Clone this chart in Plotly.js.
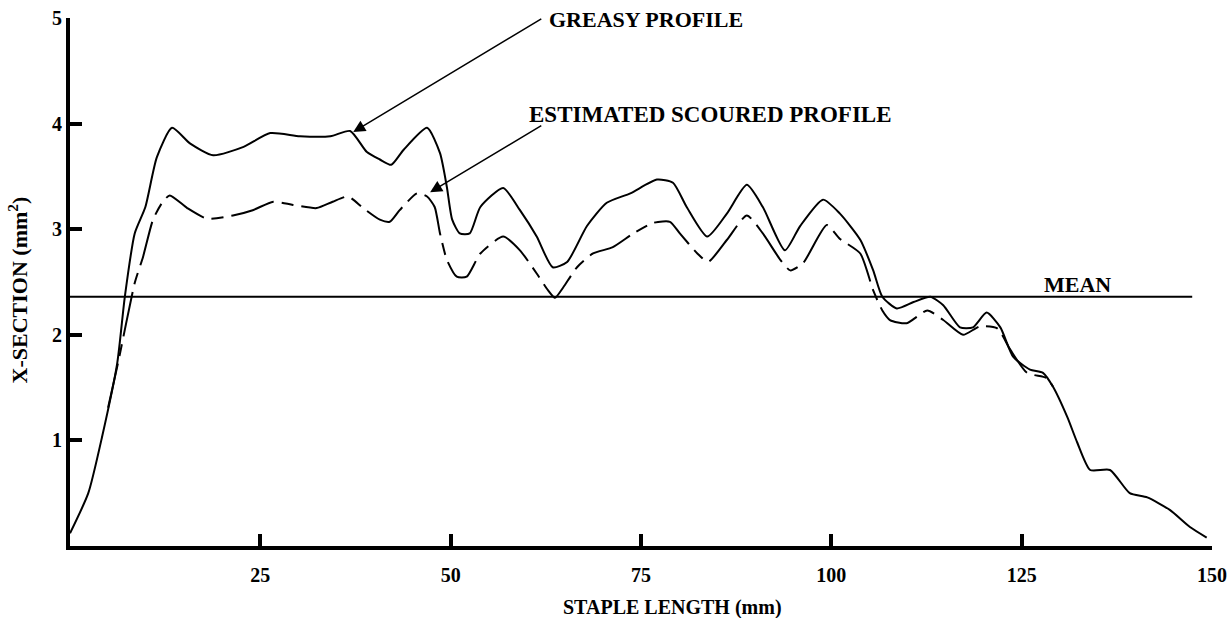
<!DOCTYPE html>
<html>
<head>
<meta charset="utf-8">
<script src="https://cdn.plot.ly/plotly-3.0.1.min.js"></script>
<style>html,body{margin:0;padding:0;background:#fff}#chart{width:1228px;height:618px}</style>
</head>
<body>
<div id="chart"></div>
<script>
// Greasy profile (solid)
var greasyX = [0, 2.4, 4.2, 6.2, 7.2, 8.5, 9.9, 11.4, 13.4, 15.8, 18.8, 22.8, 26.3, 30.2, 34.2, 36.8, 39, 40.7, 42.2, 43.8, 46.9, 48.6, 49.5, 50.2, 51.2, 52.5, 53.9, 56.9, 59.1, 61.3, 63.4, 65.3, 67.9, 70.5, 73.6, 77.1, 79.2, 81, 83.7, 86.3, 88.9, 91, 93.9, 95.9, 98.9, 101.1, 103.8, 105.5, 106.7, 108.6, 110.8, 113, 114.7, 116.9, 118.6, 120.4, 122.2, 123.9, 126.1, 127.8, 129.1, 131, 132.3, 134, 136.6, 139.2, 141.5, 144.5, 147.1, 149.3];
var greasyY = [0.12, 0.5, 1.03, 1.73, 2.36, 2.96, 3.21, 3.68, 3.96, 3.81, 3.70, 3.78, 3.91, 3.88, 3.88, 3.93, 3.73, 3.66, 3.61, 3.75, 3.96, 3.72, 3.40, 3.09, 2.96, 2.96, 3.21, 3.39, 3.18, 2.93, 2.64, 2.69, 3.03, 3.25, 3.34, 3.47, 3.44, 3.21, 2.93, 3.15, 3.42, 3.21, 2.80, 3.03, 3.28, 3.15, 2.90, 2.61, 2.36, 2.25, 2.31, 2.36, 2.28, 2.07, 2.07, 2.21, 2.07, 1.79, 1.67, 1.64, 1.51, 1.22, 0.98, 0.72, 0.72, 0.50, 0.46, 0.34, 0.18, 0.08];
// Estimated scoured profile (broken)
var scouredX = [5, 6.3, 8.5, 9.6, 10.9, 12.1, 13.1, 15.4, 18, 21.4, 24, 26.7, 29.3, 32.4, 34.5, 36.5, 38.5, 40.7, 42, 43.3, 45.6, 46.9, 47.9, 48.6, 49.5, 50.8, 52.1, 53.9, 56.9, 59.1, 61.3, 62.8, 63.7, 64.8, 66.6, 68.7, 71.3, 74, 76.6, 78.8, 80.1, 82.4, 83.8, 86.3, 88.9, 91, 93.3, 94.6, 96.3, 99.4, 101.1, 103.8, 105.5, 106.7, 107.7, 109.9, 112.6, 114.7, 117.3, 119.5, 121.8, 123.5, 125.7, 128.3, 129.1];
var scouredY = [1.31, 1.73, 2.49, 2.74, 3.09, 3.25, 3.32, 3.20, 3.10, 3.13, 3.18, 3.26, 3.23, 3.20, 3.26, 3.31, 3.20, 3.09, 3.07, 3.18, 3.34, 3.31, 3.21, 2.96, 2.71, 2.55, 2.55, 2.77, 2.93, 2.80, 2.58, 2.42, 2.35, 2.45, 2.64, 2.77, 2.83, 2.96, 3.06, 3.07, 2.96, 2.77, 2.69, 2.90, 3.13, 2.96, 2.71, 2.61, 2.68, 3.04, 2.91, 2.77, 2.42, 2.23, 2.14, 2.11, 2.23, 2.14, 2.00, 2.08, 2.06, 1.86, 1.64, 1.59, 1.51];
// Mean line
var meanValue = 2.36;
var meanX = [0, 147.4];
// Ticks
var xTicks = [25, 50, 75, 100, 125, 150];
var xTickLabels = ["25", "50", "75", "100", "125", "150"];
var yTicks = [1, 2, 3, 4, 5];
var yTickLabels = ["1", "2", "3", "4", "5"];

var serif = "Liberation Serif, Times New Roman, serif";

var traces = [
  {x: greasyX, y: greasyY, mode: "lines", line: {color: "#000", width: 2, shape: "spline", smoothing: 0.6}, hoverinfo: "skip", showlegend: false},
  {x: scouredX, y: scouredY, mode: "lines", line: {color: "#000", width: 2, shape: "spline", smoothing: 0.6, dash: "45px,8px,12px,8px"}, hoverinfo: "skip", showlegend: false},
  {x: meanX, y: [meanValue, meanValue], mode: "lines", line: {color: "#000", width: 2}, hoverinfo: "skip", showlegend: false}
];

var layout = {
  width: 1228, height: 618,
  margin: {l: 70, r: 16, t: 18, b: 72},
  paper_bgcolor: "#fff", plot_bgcolor: "#fff",
  font: {family: serif, color: "#000"},
  xaxis: {
    range: [0, 150], showgrid: false, zeroline: false,
    showline: true, linecolor: "#000", linewidth: 4,
    tickmode: "array", tickvals: xTicks, ticktext: xTickLabels,
    ticks: "inside", ticklen: 12, tickwidth: 4, tickcolor: "#000",
    ticklabelstandoff: 8,
    tickfont: {family: serif, size: 20, color: "#000", weight: "bold"}
  },
  yaxis: {
    range: [0, 5], showgrid: false, zeroline: false,
    showline: true, linecolor: "#000", linewidth: 4,
    tickmode: "array", tickvals: yTicks, ticktext: yTickLabels,
    ticks: "inside", ticklen: 12, tickwidth: 4, tickcolor: "#000",
    ticklabelstandoff: 0,
    tickfont: {family: serif, size: 20, color: "#000", weight: "bold"}
  },
  annotations: [
    {x: 79.2, y: -0.117, xref: "x", yref: "paper", text: "<b>STAPLE LENGTH (mm)</b>", showarrow: false, xanchor: "center", yanchor: "middle", font: {family: serif, size: 20, color: "#000"}},
    {x: -0.046, y: 0.485, xref: "paper", yref: "paper", text: "<b>X-SECTION (mm<sup>2</sup>)</b>", textangle: -90, showarrow: false, xanchor: "center", yanchor: "middle", font: {family: serif, size: 22, color: "#000"}},
    {x: 37.2, y: 3.92, ax: 62.1, ay: 5.0, axref: "x", ayref: "y", xref: "x", yref: "y", text: "", showarrow: true, arrowhead: 2, arrowsize: 1.6, arrowwidth: 1.5, arrowcolor: "#000"},
    {x: 62.6, y: 4.99, xref: "x", yref: "y", text: "<b>GREASY PROFILE</b>", showarrow: false, xanchor: "left", yanchor: "middle", font: {family: serif, size: 22, color: "#000"}},
    {x: 47.3, y: 3.35, ax: 62.1, ay: 3.99, axref: "x", ayref: "y", xref: "x", yref: "y", text: "", showarrow: true, arrowhead: 2, arrowsize: 1.6, arrowwidth: 1.5, arrowcolor: "#000"},
    {x: 60.0, y: 4.09, xref: "x", yref: "y", text: "<b>ESTIMATED SCOURED PROFILE</b>", showarrow: false, xanchor: "left", yanchor: "middle", font: {family: serif, size: 23, color: "#000"}},
    {x: 132.3, y: 2.48, xref: "x", yref: "y", text: "<b>MEAN</b>", showarrow: false, xanchor: "center", yanchor: "middle", font: {family: serif, size: 22, color: "#000"}}
  ]
};

Plotly.newPlot("chart", traces, layout, {staticPlot: true, displayModeBar: false});
</script>
</body>
</html>
